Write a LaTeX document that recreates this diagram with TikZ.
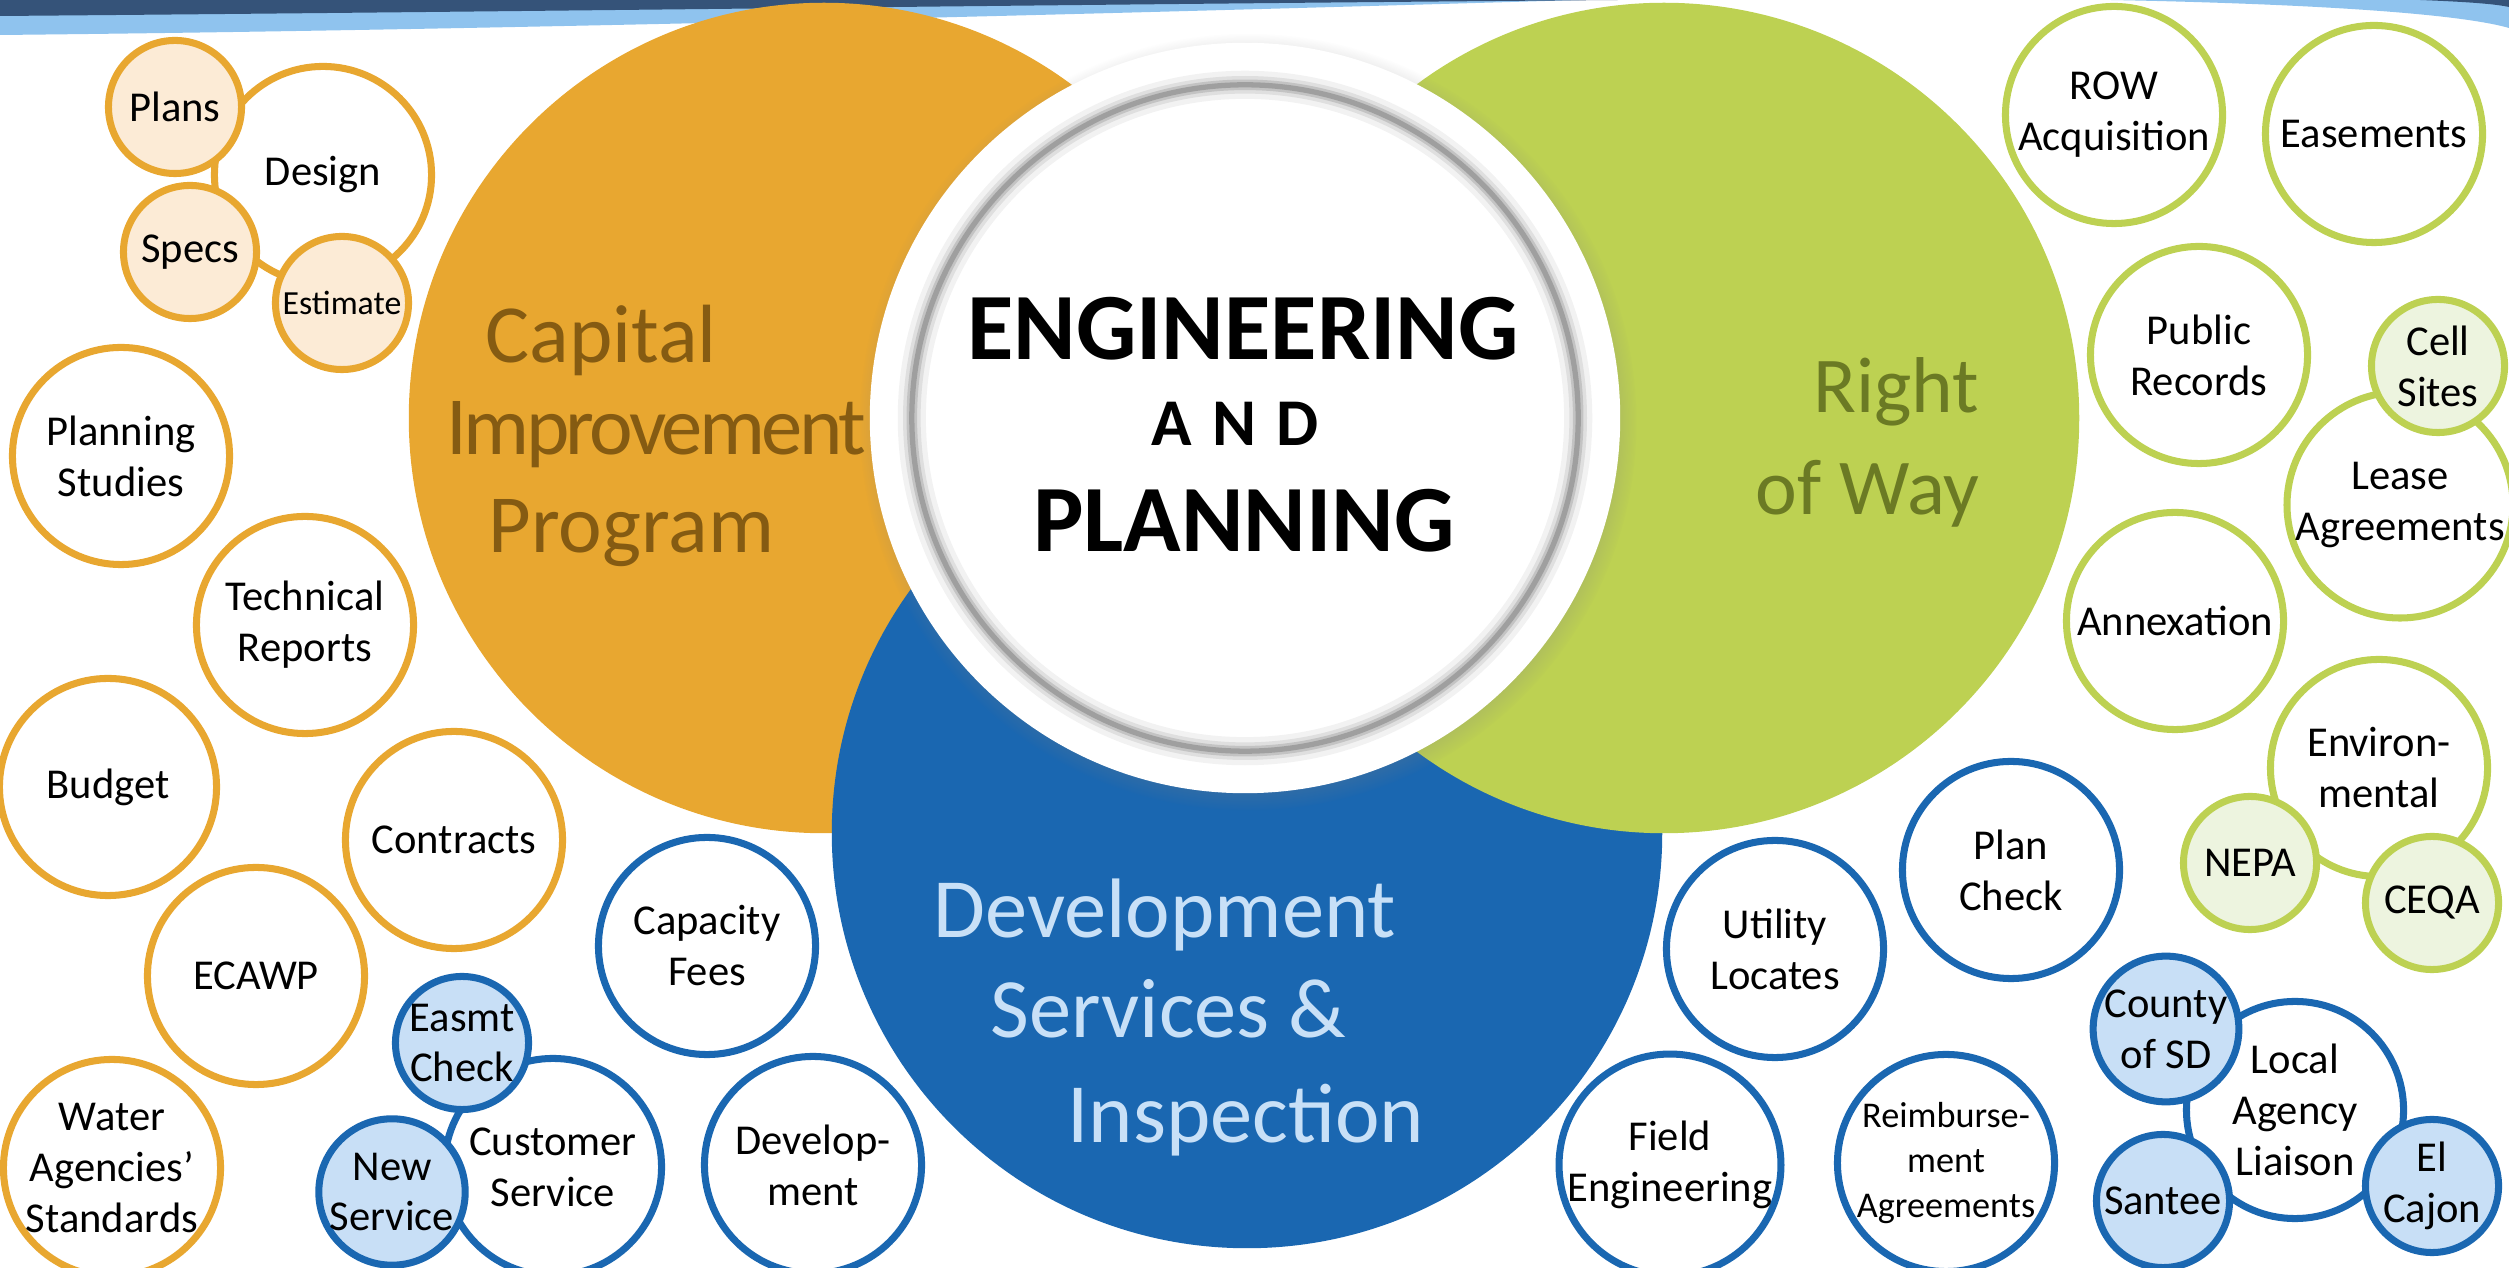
\documentclass[tikz,border=0pt]{standalone}
\usepackage{fontspec}
\setmainfont{Carlito}
\usetikzlibrary{shadows,positioning}

\definecolor{cipOrange}{HTML}{E8A730}
\definecolor{cipLight}{HTML}{FCEBD6}
\definecolor{cipText}{HTML}{855B12}
\definecolor{rowGreen}{HTML}{BDD152}
\definecolor{rowLight}{HTML}{EDF4DF}
\definecolor{rowText}{HTML}{6B7A24}
\definecolor{dsiBlue}{HTML}{1A67B1}
\definecolor{dsiLight}{HTML}{C8DFF6}
\definecolor{dsiText}{HTML}{C8E0F7}
\definecolor{bandNavy}{HTML}{355379}
\definecolor{bandBlue}{HTML}{8FC3EE}

\begin{document}
\begin{tikzpicture}[x=0.01cm,y=-0.01cm]
        \tikzset{bub/.style={circle, draw, line width=2pt, fill=white, minimum size=2.17cm, inner sep=0pt, align=center, font=\fontsize{12.1}{14.5}\selectfont},
        sbub/.style={bub, minimum size=1.33cm},
        cbub/.style={bub, draw=cipOrange},
        cbubs/.style={sbub, draw=cipOrange, fill=cipLight},
        gbub/.style={bub, draw=rowGreen},
        gbubs/.style={sbub, draw=rowGreen, fill=rowLight},
        dbub/.style={bub, draw=dsiBlue},
        dbubs/.style={sbub, draw=dsiBlue, fill=dsiLight},
        area/.style={circle, inner sep=0pt, minimum size=8.3cm},
        big/.style={inner sep=0pt, font=\fontsize{23.5}{28}\selectfont},
        title/.style={inner sep=0pt, font=\bfseries\fontsize{27}{32}\selectfont},
        }
        \useasboundingbox (0,0) rectangle (2509,1268);
        \clip (0,0) rectangle (2509,1268);

%%% header band
        \fill[bandBlue] (0,0) -- (0,35) .. controls (500,30) and (1100,14) .. (1580,0) -- cycle;
        \fill[bandBlue] (2110,0) .. controls (2320,4) and (2460,14) .. (2509,28) -- (2509,0) -- cycle;
        \fill[bandNavy] (0,0) -- (0,16) .. controls (500,12) and (1100,4) .. (1620,0) -- cycle;
        \fill[bandNavy] (2420,0) .. controls (2470,2) and (2495,4) .. (2509,7) -- (2509,0) -- cycle;

%%% the three areas
        \node [area, fill=cipOrange] (cip) at (824,418) {};
        \node [area, fill=dsiBlue] (dsi) at (1247,833) {};
        \node [area, fill=rowGreen] (row) at (1664,418) {};

        \node [big, text=cipText, anchor=base west] (cip1) at (485,363) {Capital};
        \node [big, text=cipText, anchor=base west] (cip2) at (446,455) {\addfontfeature{LetterSpace=-4.5}Improvement};
        \node [big, text=cipText, anchor=base west] (cip3) at (488,553) {Program};

        \node [big, text=rowText, anchor=base east, font=\fontsize{22.5}{27}\selectfont] (row1) at (1980,413) {Right};
        \node [big, text=rowText, anchor=base east, font=\fontsize{22.5}{27}\selectfont] (row2) at (1980,515) {of Way};

        \node [big, text=dsiText, anchor=base west, font=\fontsize{24}{29}\selectfont] (dsi1) at (933,938) {Development};
        \node [big, text=dsiText, anchor=base west, font=\fontsize{24}{29}\selectfont] (dsi2) at (990,1038) {Services \&};
        \node [big, text=dsiText, anchor=base west, font=\fontsize{24}{29}\selectfont] (dsi3) at (1067,1143) {Inspection};

%%% centre
        \node [circle, fill=white, inner sep=0pt, minimum size=7.5cm,
               circular drop shadow={shadow xshift=0.03cm, shadow yshift=-0.04cm, shadow scale=1.035, opacity=0.6}] (core) at (1245,418) {};
        \foreach \lw/\op in {8pt/0.05, 5pt/0.08, 3pt/0.12, 1.5pt/0.18}
            \draw[black, line width=\lw, opacity=\op] (core.center) circle [radius=3.33cm];

        \node [title, anchor=base] (eng) at (1243,360) {ENGINEERING};
        \node [title, anchor=base, font=\bfseries\fontsize{19}{22}\selectfont] (and) at (1235,446) {A\hspace{0.3em}N\hspace{0.3em}D};
        \node [title, anchor=base] (plan) at (1244,552) {PLANNING};

%%% capital improvement bubbles
        \node [cbub] (design) at (323,175) {Design};
        \node [cbubs] (plans) at (175,107) {Plans};
        \node [cbubs] (specs) at (190,252) {Specs};
        \node [cbubs, font=\fontsize{9.6}{11}\selectfont] (estimate) at (342,303) {Estimate};
        \node [cbub] (studies) at (121,456) {Planning\\Studies};
        \node [cbub] (techrep) at (305,625) {Technical\\Reports};
        \node [cbub] (budget) at (108,787) {Budget};
        \node [cbub] (contracts) at (454,840) {Contracts};
        \node [cbub] (ecawp) at (256,976) {ECAWP};
        \node [cbub] (standards) at (112,1168) {Water\\Agencies’\\Standards};

%%% right of way bubbles
        \node [gbub] (rowacq) at (2114,115) {ROW\\Acquisition};
        \node [gbub] (easements) at (2374,134) {Easements};
        \node [gbub] (records) at (2199,355) {Public\\Records};
        \node [gbub] (lease) at (2400,505) {Lease\\Agreements};
        \node [gbubs] (cells) at (2438,366) {Cell\\Sites};
        \node [gbub] (annex) at (2175,621) {Annexation};
        \node [gbub] (environ) at (2379,768) {Environ-\\mental};
        \node [gbubs] (nepa) at (2250,863) {NEPA};
        \node [gbubs] (ceqa) at (2432,903) {CEQA};

%%% development services bubbles
        \node [dbub] (capfees) at (707,946) {Capacity\\Fees};
        \node [dbub] (custsvc) at (553,1167) {Customer\\Service};
        \node [dbubs] (easmt) at (462,1043) {Easmt\\Check};
        \node [dbubs] (newsvc) at (392,1192) {New\\Service};
        \node [dbub] (develop) at (813,1165) {Develop-\\ment};
        \node [dbub] (utility) at (1775,949) {Utility\\Locates};
        \node [dbub] (plancheck) at (2011,870) {Plan\\Check};
        \node [dbub] (fieldeng) at (1670,1165) {Field\\Engineering};
        \node [dbub, font=\fontsize{10.3}{12.8}\selectfont] (reimb) at (1946,1163) {Reimburse-\\ment\\Agreements};
        \node [dbub] (liaison) at (2295,1110) {Local\\Agency\\Liaison};
        \node [dbubs] (county) at (2166,1029) {County\\of SD};
        \node [dbubs] (santee) at (2163,1201) {Santee};
        \node [dbubs] (elcajon) at (2432,1186) {El\\Cajon};
\end{tikzpicture}
\end{document}
